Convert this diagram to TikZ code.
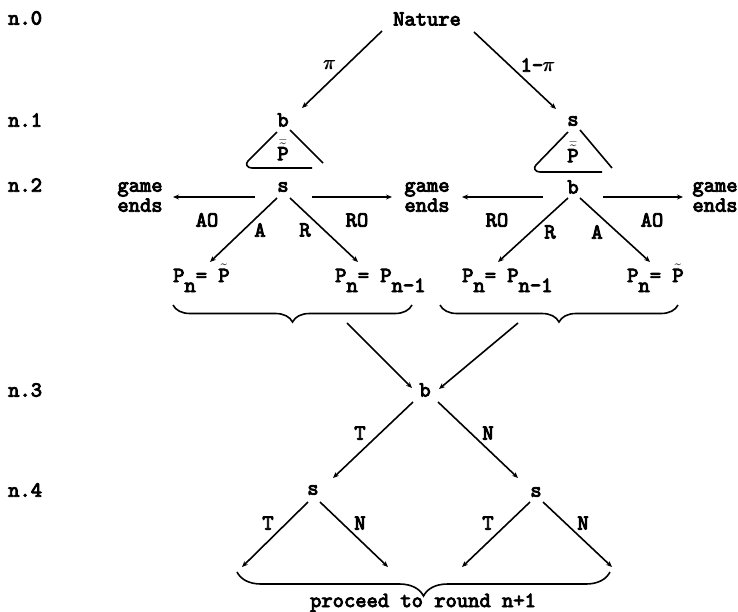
\documentclass[tikz,border=0pt]{standalone}
\usepackage{amsmath}
\usepackage{fontspec}
\newfontfamily\boldtt[FakeBold=4]{lmmono10-regular.otf}
\usetikzlibrary{arrows.meta,decorations.pathreplacing}
\newcommand{\mypi}{$\pmb{\pi}$}
\newcommand{\mysub}[1]{\raisebox{-10pt}{#1}}
\newcommand{\ptb}{$\bar{\tilde{\hbox{P}}}$}
\newcommand{\pt}{$\tilde{\hbox{P}}$}
\begin{document}
\begin{tikzpicture}[x=1pt,y=-1pt,
  every node/.style={font=\fontsize{21.5}{20}\selectfont\boldtt, inner sep=0pt},
  arr/.style={line width=1.6pt, -{Stealth[length=6pt,width=5pt]}},
  ln/.style={line width=1.6pt},
  brc/.style={line width=1.6pt, decorate, decoration={brace,mirror,amplitude=#1}}]
\useasboundingbox (0,0) rectangle (738,611);
% level labels
\node[anchor=west] (n0) at (8,18) {n.0};
\node[anchor=west] (n1) at (8,120) {n.1};
\node[anchor=west] (n2) at (8,185) {n.2};
\node[anchor=west] (n3) at (8,390) {n.3};
\node[anchor=west] (n4) at (8,490) {n.4};
% nature
\node (nature) at (427,19) {Nature};
\node (b1) at (283,120) {b};
\node (s1) at (573,121) {s};
\draw[arr] ([shift={(-45,12)}]nature.center) -- ([shift={(19,-12)}]b1.center);
\draw[arr] ([shift={(47,13)}]nature.center) -- ([shift={(-17,-12)}]s1.center);
\node (pi) at (330,65) {\mypi};
\node (ompi) at (538,65) {1\textendash\mypi};
% information triangles
\draw[ln] ([shift={(-6,12)}]b1.center) -- ([shift={(-35,41)}]b1.center)
  .. controls ([shift={(-38,44)}]b1.center) and ([shift={(-36,48)}]b1.center) .. ([shift={(-31,48)}]b1.center)
  -- ([shift={(29,48)}]b1.center);
\draw[ln] ([shift={(7,10)}]b1.center) -- ([shift={(40,43)}]b1.center);
\node (pt1) at (283,150) {\ptb};
\draw[ln] ([shift={(-5,11)}]s1.center) -- ([shift={(-37,44)}]s1.center)
  .. controls ([shift={(-40,47)}]s1.center) and ([shift={(-38,51)}]s1.center) .. ([shift={(-33,51)}]s1.center)
  -- ([shift={(29,51)}]s1.center);
\draw[ln] ([shift={(7,9)}]s1.center) -- ([shift={(39,47)}]s1.center);
\node (pt2) at (573,152) {\ptb};
% level 2
\node (s2) at (283,187) {s};
\node (b2) at (573,187) {b};
\node[align=center] (g1) at (140,197) {game\\ends};
\node[align=center] (g2) at (427,197) {game\\ends};
\node[align=center] (g3) at (715,197) {game\\ends};
\draw[arr] ([shift={(-28,10)}]s2.center) -- ([shift={(33,0)}]g1.center);
\draw[arr] ([shift={(29,10)}]s2.center) -- ([shift={(-35,0)}]g2.center);
\draw[arr] ([shift={(-30,10)}]b2.center) -- ([shift={(35,0)}]g2.center);
\draw[arr] ([shift={(30,10)}]b2.center) -- ([shift={(-32,0)}]g3.center);
\node (ao1) at (207,220) {AO};
\node (ro1) at (357,220) {RO};
\node (ro2) at (497,220) {RO};
\node (ao2) at (652,220) {AO};
% outcomes
\node[anchor=base west] (pL1) at (173,282) {P\mysub{n}= \pt};
\node[anchor=base west] (pL2) at (335,282) {P\mysub{n}= P\mysub{n\textendash1}};
\node[anchor=base west] (pR1) at (462,282) {P\mysub{n}= P\mysub{n\textendash1}};
\node[anchor=base west] (pR2) at (627,282) {P\mysub{n}= \pt};
\draw[arr] ([shift={(-6,11)}]s2.center) -- ([shift={(37,-20)}]pL1.base west);
\draw[arr] ([shift={(7,11)}]s2.center) -- ([shift={(23,-20)}]pL2.base west);
\draw[arr] ([shift={(-5,11)}]b2.center) -- ([shift={(36,-20)}]pR1.base west);
\draw[arr] ([shift={(7,11)}]b2.center) -- ([shift={(23,-20)}]pR2.base west);
\node (lA1) at (260,230) {A};
\node (lR1) at (305,230) {R};
\node (lR2) at (550,232) {R};
\node (lA2) at (597,232) {A};
% braces
\draw[brc=17pt] (173,305) -- (412,305);
\draw[brc=17pt] (440,305) -- (678,305);
\coordinate (bl) at (347,323);
\coordinate (br) at (518,323);
% level 3
\node (b3) at (425,390) {b};
\draw[arr] (bl) -- ([shift={(-13,-2)}]b3.center);
\draw[arr] (br) -- ([shift={(14,-1)}]b3.center);
\node (s4L) at (313,490) {s};
\node (s4R) at (536,492) {s};
\draw[arr] ([shift={(-12,12)}]b3.center) -- ([shift={(20,-12)}]s4L.center);
\draw[arr] ([shift={(13,12)}]b3.center) -- ([shift={(-18,-14)}]s4R.center);
\node (lT0) at (360,433) {T};
\node (lN0) at (488,433) {N};
% level 4
\coordinate (l1) at (242,567);
\coordinate (l2) at (388,567);
\coordinate (l3) at (462,567);
\coordinate (l4) at (612,567);
\draw[arr] ([shift={(-5,12)}]s4L.center) -- (l1);
\draw[arr] ([shift={(7,12)}]s4L.center) -- (l2);
\draw[arr] ([shift={(-6,10)}]s4R.center) -- (l3);
\draw[arr] ([shift={(7,10)}]s4R.center) -- (l4);
\node (lT1) at (268,523) {T};
\node (lN1) at (360,523) {N};
\node (lT2) at (488,523) {T};
\node (lN2) at (583,523) {N};
\draw[brc=24pt] (237,572) -- (610,572);
\node[anchor=base] (proc) at (423,607) {proceed to round n+1};
\end{tikzpicture}
\end{document}
